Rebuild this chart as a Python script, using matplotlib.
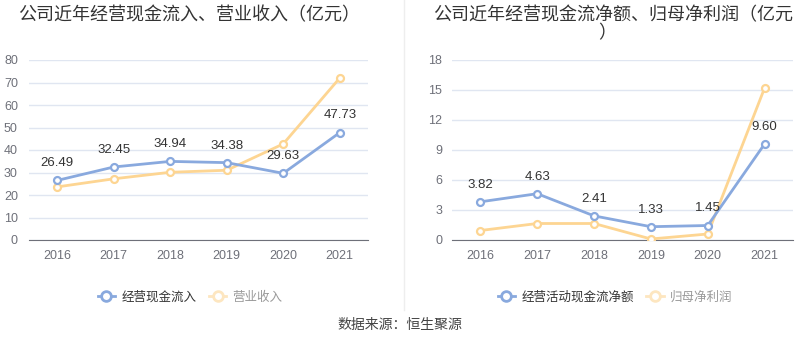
import matplotlib.pyplot as plt
from matplotlib.lines import Line2D

plt.rcParams['font.family'] = ['Noto Sans CJK SC', 'DejaVu Sans']

years = ['2016', '2017', '2018', '2019', '2020', '2021']
cash_in = [26.49, 32.45, 34.94, 34.38, 29.63, 47.73]
revenue = [23.6, 27.2, 30.1, 31.0, 42.7, 72.0]
cash_net = [3.82, 4.63, 2.41, 1.33, 1.45, 9.60]
profit = [0.95, 1.65, 1.65, 0.1, 0.6, 15.2]

blue = '#89a9de'
orange = '#fdd592'
W, H = 800, 358

fig = plt.figure(figsize=(8, 3.58), dpi=100)


def panel(x0, x1, s1, s2, yticks, off, name1, name2, leg_x):
    ax = fig.add_axes([x0 / W, (H - 240) / H, (x1 - x0) / W, 180 / H])
    x = range(len(years))
    ax.plot(x, s2, color=orange, lw=2, marker='o', ms=5, mfc='white', mew=1.6, zorder=3)
    ax.plot(x, s1, color=blue, lw=2, marker='o', ms=5, mfc='white', mew=1.6, zorder=4)
    for i, v in enumerate(s1):
        ax.annotate('%.2f' % v, (i, v), xytext=(0, 8), textcoords='offset points',
                    ha='center', va='bottom', fontsize=9.5, color='#333333',
                    family='Liberation Sans', zorder=5)
    ax.set_xlim(-0.5, len(years) - 0.5)
    ax.set_ylim(yticks[0], yticks[-1])
    ax.set_yticks(yticks)
    ax.set_xticks(list(x))
    ax.set_xticklabels(years)
    for lab in ax.get_xticklabels() + ax.get_yticklabels():
        lab.set_family('Liberation Sans')
    ax.tick_params(axis='both', length=0, labelsize=9, labelcolor='#6e7079')
    ax.tick_params(axis='y', pad=off)
    ax.tick_params(axis='x', pad=7)
    ax.grid(axis='y', color='#e0e6f1', lw=1)
    ax.set_axisbelow(True)
    for s in ['top', 'right', 'left']:
        ax.spines[s].set_visible(False)
    ax.spines['bottom'].set_color('#6e7079')
    h1 = Line2D([], [], color=blue, lw=2, marker='o', ms=7, mfc='white', mew=2)
    h2 = Line2D([], [], color='#fde6c0', lw=2, marker='o', ms=7, mfc='white', mew=2)
    leg = ax.legend([h1, h2], [name1, name2], loc='center', ncol=2,
                    bbox_to_anchor=(leg_x / W, (H - 297) / H), bbox_transform=fig.transFigure,
                    frameon=False, fontsize=9, handlelength=1.4, handletextpad=0.5,
                    columnspacing=1.0)
    leg.get_texts()[0].set_color('#333333')
    leg.get_texts()[1].set_color('#999999')
    return ax


panel(29, 368, cash_in, revenue, [0, 10, 20, 30, 40, 50, 60, 70, 80], 8,
      '经营现金流入', '营业收入', 190)
panel(452, 793, cash_net, profit, [0, 3, 6, 9, 12, 15, 18], 7,
      '经营活动现金流净额', '归母净利润', 615)

fig.text(18 / W, 1 - 15 / H, '公司近年经营现金流入、营业收入（亿元）', fontsize=13,
         color='#333333', ha='left', va='center')
fig.text(433 / W, 1 - 15 / H, '公司近年经营现金流净额、归母净利润（亿元', fontsize=13,
         color='#333333', ha='left', va='center')
fig.text(607 / W, 1 - 33 / H, '）', fontsize=13, color='#333333', ha='center', va='center')
fig.text(400 / W, 1 - 325 / H, '数据来源：恒生聚源', fontsize=10, color='#444444',
         ha='center', va='center')
fig.add_artist(Line2D([404 / W, 404 / W], [1 - 310 / H, 1.0], color='#eeeeee', lw=1))

fig.savefig('out.png', dpi=100, facecolor='white')
